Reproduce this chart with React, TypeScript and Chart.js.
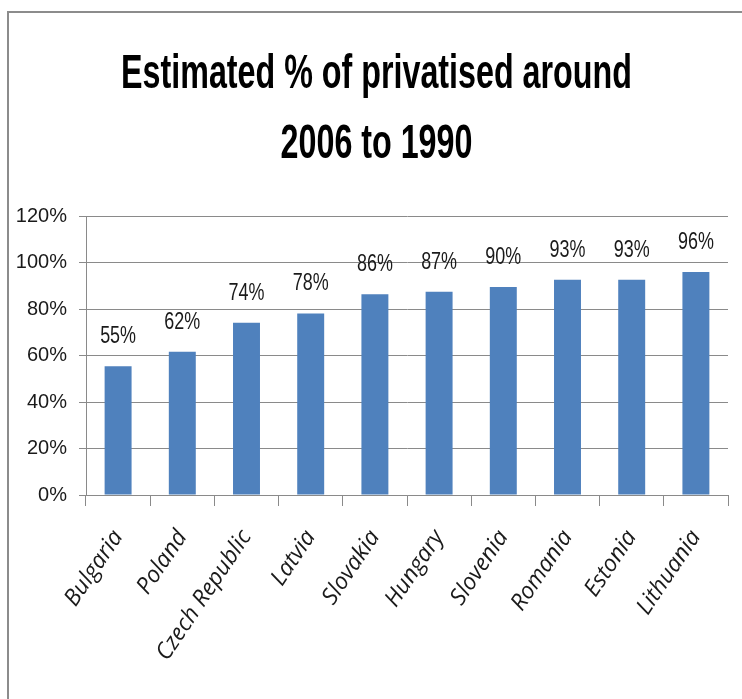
import React, { useEffect, useRef } from "react";
import { Chart, registerables } from "chart.js";

Chart.register(...registerables);

const TITLE_LINES = ["Estimated % of privatised around", "2006 to 1990"];
const COUNTRIES = [
  "Bulgaria",
  "Poland",
  "Czech Republic",
  "Latvia",
  "Slovakia",
  "Hungary",
  "Slovenia",
  "Romania",
  "Estonia",
  "Lithuania",
];
const PRIVATISED_PCT = [55.4, 61.6, 74.1, 78.1, 86.3, 87.4, 89.5, 92.6, 92.6, 95.9];
const Y_MIN = 0;
const Y_MAX = 120;
const Y_STEP = 20;

const SANS = '"Liberation Sans", Arial, sans-serif';

const titlePlugin = {
  id: "scaledTitle",
  afterDraw(chart: any) {
    const ctx = chart.ctx;
    ctx.save();
    ctx.font = `bold 48px ${SANS}`;
    ctx.fillStyle = "#000";
    ctx.textAlign = "center";
    ctx.textBaseline = "alphabetic";
    const cx = chart.width / 2 + 1;
    TITLE_LINES.forEach((line, i) => {
      ctx.save();
      ctx.translate(cx, 75 + i * 70);
      ctx.scale(0.672, 1);
      ctx.fillText(line, 0, 0);
      ctx.restore();
    });
    ctx.restore();
  },
};

const valueLabelPlugin = {
  id: "valueLabels",
  afterDatasetsDraw(chart: any) {
    const ctx = chart.ctx;
    const meta = chart.getDatasetMeta(0);
    const data = chart.data.datasets[0].data as number[];
    ctx.save();
    ctx.font = `23px ${SANS}`;
    ctx.fillStyle = "#1a1a1a";
    ctx.textAlign = "center";
    ctx.textBaseline = "alphabetic";
    meta.data.forEach((bar: any, i: number) => {
      ctx.save();
      ctx.translate(bar.x, bar.y - 23);
      ctx.scale(0.78, 1);
      ctx.fillText(`${Math.round(data[i])}%`, 0, 0);
      ctx.restore();
    });
    ctx.restore();
  },
};

export default function App() {
  const canvasRef = useRef<HTMLCanvasElement | null>(null);

  useEffect(() => {
    if (!canvasRef.current) return;
    const chart = new Chart(canvasRef.current, {
      type: "bar",
      data: {
        labels: COUNTRIES,
        datasets: [
          {
            data: PRIVATISED_PCT,
            backgroundColor: "#4F81BD",
            borderWidth: 0,
            barPercentage: 0.42,
            categoryPercentage: 1,
          },
        ],
      },
      options: {
        responsive: false,
        animation: false,
        devicePixelRatio: 1,
        layout: { padding: { top: 203, right: 14, left: 0, bottom: 0 } },
        plugins: {
          legend: { display: false },
          title: { display: false },
          tooltip: { enabled: false },
        },
        scales: {
          x: {
            grid: {
              display: true,
              offset: true,
              drawOnChartArea: false,
              drawTicks: true,
              tickLength: 11,
              color: "#8a8a8a",
              lineWidth: 1,
            },
            border: { display: true, color: "#8a8a8a", width: 1 },
            ticks: {
              autoSkip: false,
              minRotation: 56,
              maxRotation: 56,
              padding: 19,
              color: "#1a1a1a",
              font: { family: '"Open Sans", sans-serif', size: 23, style: "italic" },
            },
            afterFit(scale: any) {
              scale.height = 204;
            },
          },
          y: {
            min: Y_MIN,
            max: Y_MAX,
            grid: {
              color: "#8a8a8a",
              lineWidth: 1,
              drawTicks: true,
              tickLength: 7,
            },
            border: { display: true, color: "#8a8a8a", width: 1 },
            ticks: {
              stepSize: Y_STEP,
              padding: 12,
              color: "#1a1a1a",
              font: { family: SANS, size: 20 },
              callback: (v: any) => `${v}%`,
            },
            afterFit(scale: any) {
              scale.width = 77;
            },
          },
        },
      },
      plugins: [titlePlugin, valueLabelPlugin],
    });
    return () => chart.destroy();
  }, []);

  return (
    <div
      style={{
        position: "fixed",
        left: 7,
        top: 11,
        width: 735,
        height: 700,
        borderLeft: "2px solid #8c8c8c",
        borderTop: "2px solid #8c8c8c",
        background: "#fff",
        boxSizing: "border-box",
      }}
    >
      <canvas ref={canvasRef} width={733} height={686} style={{ display: "block" }} />
    </div>
  );
}
